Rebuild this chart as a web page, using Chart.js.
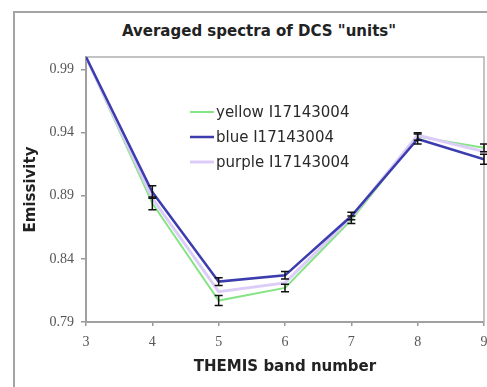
<!DOCTYPE html>
<html>
<head>
<meta charset="utf-8">
<script src="https://cdn.jsdelivr.net/npm/chart.js@4/dist/chart.umd.min.js"></script>
<style>
  html, body { margin: 0; padding: 0; background: #fff; }
  #wrap { position: relative; width: 487px; height: 387px; overflow: hidden; }
  #frame { position: absolute; left: 13px; top: 11px; right: -10px; bottom: -10px;
           border-left: 2px solid #a4a4a4; border-top: 2px solid #a4a4a4; }
  #title { position: absolute; left: 0; width: 518px; top: 22px; text-align: center;
           font: bold 15px "DejaVu Sans", sans-serif; color: #222; }
  canvas { position: absolute; left: 0; top: 0; }
</style>
</head>
<body>
<div id="wrap">
  <div id="frame"></div>
  <div id="title">Averaged spectra of DCS "units"</div>
  <canvas id="chart" width="487" height="387"></canvas>
</div>
<script>
const bands = [3, 4, 5, 6, 7, 8, 9];
const yellowVals = [1.0, 0.884, 0.807, 0.817, 0.871, 0.937, 0.928];
const blueVals   = [1.0, 0.893, 0.822, 0.827, 0.874, 0.935, 0.919];
const purpleVals = [1.0, 0.888, 0.814, 0.821, 0.873, 0.938, 0.925];
const yellowErr  = [0, 0.005, 0.004, 0.003, 0.003, 0.003, 0.003];
const blueErr    = [0, 0.005, 0.003, 0.003, 0.003, 0.004, 0.004];
const seriesNames = ['yellow I17143004', 'blue I17143004', 'purple I17143004'];
const yTicks = [0.79, 0.84, 0.89, 0.94, 0.99];

const toPoints = vals => vals.map((v, i) => ({ x: bands[i], y: v }));

// plot box: thin border on top/right
const boxPlugin = {
  id: 'box',
  beforeDatasetsDraw(chart) {
    const { ctx, chartArea: a } = chart;
    ctx.save();
    ctx.strokeStyle = '#b0b0b0';
    ctx.lineWidth = 1.5;
    ctx.beginPath();
    ctx.moveTo(a.left, a.top);
    ctx.lineTo(a.right, a.top);
    ctx.lineTo(a.right, a.bottom);
    ctx.stroke();
    ctx.restore();
  }
};

// I-shaped error bars
const errorBars = {
  id: 'errorBars',
  afterDatasetsDraw(chart) {
    const { ctx, scales: { x, y } } = chart;
    ctx.save();
    ctx.strokeStyle = '#111';
    ctx.lineWidth = 1.5;
    chart.data.datasets.forEach(ds => {
      if (!ds.errors) return;
      ds.data.forEach((p, i) => {
        const e = ds.errors[i];
        if (!e) return;
        const px = x.getPixelForValue(p.x);
        const top = y.getPixelForValue(p.y + e);
        const bot = y.getPixelForValue(p.y - e);
        ctx.beginPath();
        ctx.moveTo(px, top); ctx.lineTo(px, bot);
        ctx.moveTo(px - 4, top); ctx.lineTo(px + 4, top);
        ctx.moveTo(px - 4, bot); ctx.lineTo(px + 4, bot);
        ctx.stroke();
      });
    });
    ctx.restore();
  }
};

// legend inside the plot
const innerLegend = {
  id: 'innerLegend',
  afterDraw(chart) {
    const { ctx } = chart;
    ctx.save();
    ctx.font = '15px "DejaVu Sans", sans-serif';
    ctx.textBaseline = 'middle';
    ctx.fillStyle = '#2a2a2a';
    chart.data.datasets.forEach((ds, i) => {
      const yy = 112 + i * 25;
      ctx.strokeStyle = ds.borderColor;
      ctx.lineWidth = ds.borderWidth;
      ctx.beginPath();
      ctx.moveTo(190, yy); ctx.lineTo(214, yy);
      ctx.stroke();
      ctx.fillText(ds.label, 216, yy + 1);
    });
    ctx.restore();
  }
};

new Chart(document.getElementById('chart'), {
  type: 'line',
  data: {
    datasets: [
      { label: seriesNames[0], data: toPoints(yellowVals), errors: yellowErr,
        borderColor: '#86e486', borderWidth: 2, order: 3 },
      { label: seriesNames[1], data: toPoints(blueVals), errors: blueErr,
        borderColor: '#3c3cae', borderWidth: 2.5, order: 1 },
      { label: seriesNames[2], data: toPoints(purpleVals),
        borderColor: '#dccdf8', borderWidth: 3, order: 2 }
    ]
  },
  options: {
    responsive: false,
    animation: false,
    layout: { padding: { top: 57, right: 3, left: 0, bottom: 0 } },
    elements: { point: { radius: 0 }, line: { tension: 0 } },
    plugins: {
      legend: { display: false },
      title: { display: false },
      tooltip: { enabled: false }
    },
    scales: {
      x: {
        type: 'linear', min: 3, max: 9,
        afterFit: s => { s.height = 65; s.paddingLeft = 0; s.paddingRight = 0; },
        ticks: { stepSize: 1, padding: 8, color: '#555',
                 font: { family: 'Liberation Serif', size: 14 } },
        grid: { drawOnChartArea: false, tickLength: 4, color: '#999', lineWidth: 1.5 },
        border: { color: '#a0a0a0', width: 2 },
        title: { display: true, text: 'THEMIS band number', color: '#222',
                 padding: { top: 0, bottom: 11 },
                 font: { family: 'DejaVu Sans', size: 15, weight: 'bold' } }
      },
      y: {
        min: 0.79, max: 1.0,
        afterFit: s => { s.width = 86; s.paddingTop = 0; s.paddingBottom = 0; },
        afterBuildTicks: s => { s.ticks = yTicks.map(v => ({ value: v })); },
        ticks: { padding: 7, color: '#555', callback: v => v.toFixed(2),
                 font: { family: 'Liberation Serif', size: 14 } },
        grid: { drawOnChartArea: false, tickLength: 5, color: '#999', lineWidth: 1.5 },
        border: { color: '#a0a0a0', width: 2 },
        title: { display: true, text: 'Emissivity', color: '#222',
                 padding: { top: 22, bottom: 0 },
                 font: { family: 'DejaVu Sans', size: 15, weight: 'bold' } }
      }
    }
  },
  plugins: [boxPlugin, errorBars, innerLegend]
});
</script>
</body>
</html>
